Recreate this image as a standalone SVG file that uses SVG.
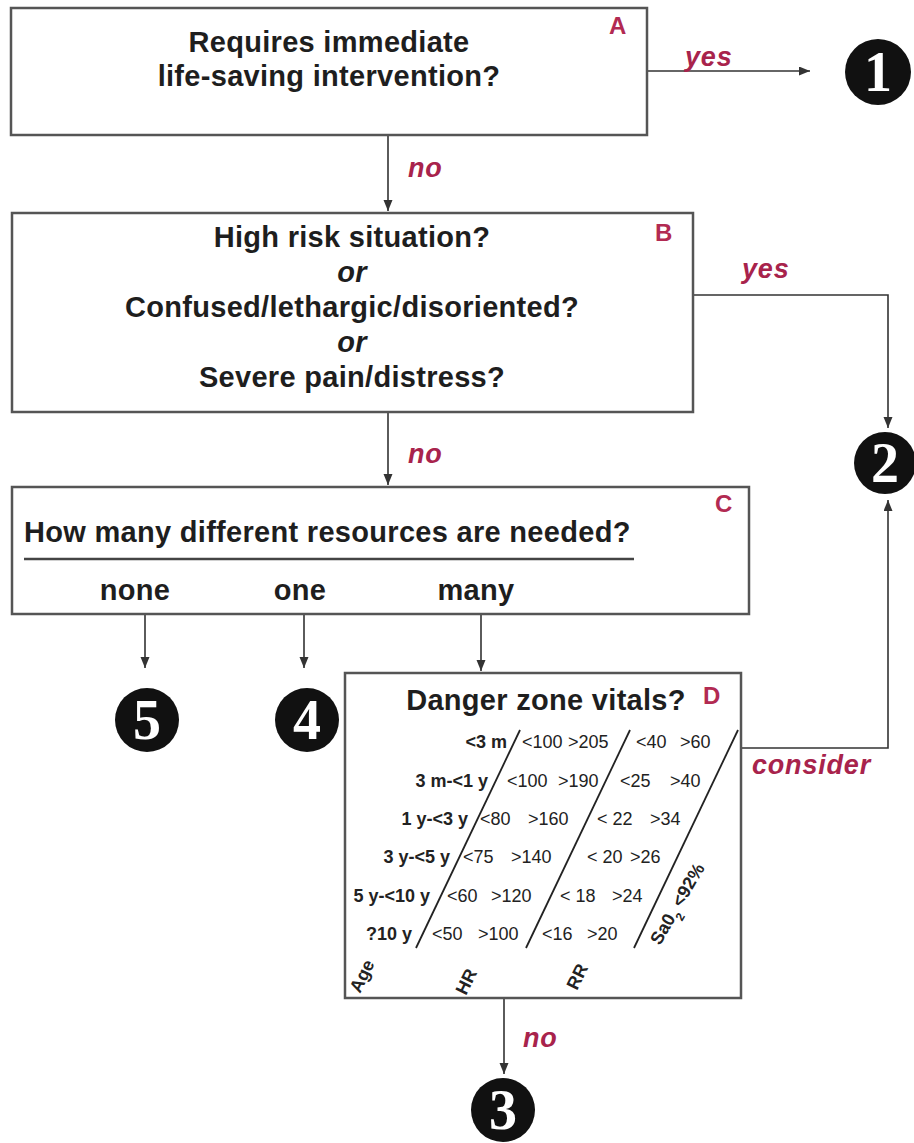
<svg xmlns="http://www.w3.org/2000/svg" width="914" height="1143" viewBox="0 0 914 1143">
<defs>
<marker id="ah" markerUnits="userSpaceOnUse" markerWidth="12" markerHeight="10" refX="11" refY="4.5" orient="auto">
<path d="M0,0 L11,4.5 L0,9 z" fill="#333"/>
</marker>
<style>
.box{fill:#fff;stroke:#555;stroke-width:2.5}
.q{font-family:"Liberation Sans",Arial,sans-serif;font-weight:bold;font-size:29px;letter-spacing:0.3px;fill:#1e1e1e}
.or{font-style:italic}
.lbl{font-family:"Liberation Sans",Arial,sans-serif;font-weight:bold;font-size:24px;fill:#b22a52}
.red{font-family:"Liberation Sans",Arial,sans-serif;font-weight:bold;font-style:italic;font-size:27px;letter-spacing:0.8px;fill:#a8234c}
.con{fill:none;stroke:#333;stroke-width:1.6}
.num{font-family:"Liberation Serif","Times New Roman",serif;font-weight:bold;font-size:56px;fill:#fff;text-anchor:middle}
.age{font-family:"Liberation Sans",Arial,sans-serif;font-weight:bold;font-size:18px;fill:#222;text-anchor:end}
.val{font-family:"Liberation Sans",Arial,sans-serif;font-size:18px;fill:#222}
.ax{font-family:"Liberation Sans",Arial,sans-serif;font-weight:bold;font-size:18px;fill:#222}
.sl{stroke:#222;stroke-width:1.8}
</style>
</defs>
<rect width="914" height="1143" fill="#fff"/>

<g id="connectors">
<line class="con" x1="648" y1="71" x2="810" y2="71" marker-end="url(#ah)"/>
<line class="con" x1="388" y1="135" x2="388" y2="211" marker-end="url(#ah)"/>
<polyline class="con" points="693,295 888,295 888,428" marker-end="url(#ah)"/>
<line class="con" x1="388" y1="412" x2="388" y2="485" marker-end="url(#ah)"/>
<line class="con" x1="145" y1="614" x2="145" y2="668" marker-end="url(#ah)"/>
<line class="con" x1="304" y1="614" x2="304" y2="668" marker-end="url(#ah)"/>
<line class="con" x1="481" y1="614" x2="481" y2="671" marker-end="url(#ah)"/>
<polyline class="con" points="741,748 888,748 888,500" marker-end="url(#ah)"/>
<line class="con" x1="504" y1="998" x2="504" y2="1074" marker-end="url(#ah)"/>
<text class="red" x="685" y="66">yes</text>
<text class="red" x="408" y="177">no</text>
<text class="red" x="742" y="278">yes</text>
<text class="red" x="408" y="463">no</text>
<text class="red" x="752" y="774">consider</text>
<text class="red" x="523" y="1047">no</text>
</g>

<g id="nodeA">
<rect class="box" x="11" y="8" width="636" height="127"/>
<text class="q" x="329" y="52" text-anchor="middle">Requires immediate</text>
<text class="q" x="329" y="86" text-anchor="middle">life-saving intervention?</text>
<text class="lbl" x="609" y="34">A</text>
</g>

<g id="nodeB">
<rect class="box" x="12" y="213" width="681" height="199"/>
<text class="q" x="352" y="247" text-anchor="middle">High risk situation?</text>
<text class="q or" x="352" y="282" text-anchor="middle">or</text>
<text class="q" x="352" y="317" text-anchor="middle">Confused/lethargic/disoriented?</text>
<text class="q or" x="352" y="352" text-anchor="middle">or</text>
<text class="q" x="352" y="387" text-anchor="middle">Severe pain/distress?</text>
<text class="lbl" x="655" y="241">B</text>
</g>

<g id="nodeC">
<rect class="box" x="12" y="487" width="737" height="127"/>
<text class="q" x="24" y="542">How many different resources are needed?</text>
<line x1="24" y1="559" x2="634" y2="559" stroke="#444" stroke-width="2.5"/>
<text class="q" x="135" y="600" text-anchor="middle">none</text>
<text class="q" x="300" y="600" text-anchor="middle">one</text>
<text class="q" x="476" y="600" text-anchor="middle">many</text>
<text class="lbl" x="715" y="512">C</text>
</g>

<g id="nodeD">
<rect class="box" x="345" y="673" width="396" height="325"/>
<text class="q" x="546" y="710" text-anchor="middle">Danger zone vitals?</text>
<text class="lbl" x="703" y="704">D</text>
<line class="sl" x1="520" y1="730" x2="416" y2="948"/>
<line class="sl" x1="630" y1="730" x2="526" y2="948"/>
<line class="sl" x1="738" y1="730" x2="634" y2="948"/>
<text class="age" x="507" y="748">&lt;3 m</text>
<text class="val" y="748"><tspan x="522">&lt;100</tspan><tspan x="568">&gt;205</tspan><tspan x="636">&lt;40</tspan><tspan x="680">&gt;60</tspan></text>
<text class="age" x="488" y="787">3 m-&lt;1 y</text>
<text class="val" y="787"><tspan x="507">&lt;100</tspan><tspan x="558">&gt;190</tspan><tspan x="620">&lt;25</tspan><tspan x="670">&gt;40</tspan></text>
<text class="age" x="468" y="825">1 y-&lt;3 y</text>
<text class="val" y="825"><tspan x="480">&lt;80</tspan><tspan x="528">&gt;160</tspan><tspan x="597">&lt; 22</tspan><tspan x="650">&gt;34</tspan></text>
<text class="age" x="450" y="863">3 y-&lt;5 y</text>
<text class="val" y="863"><tspan x="463">&lt;75</tspan><tspan x="511">&gt;140</tspan><tspan x="587">&lt; 20</tspan><tspan x="630">&gt;26</tspan></text>
<text class="age" x="430" y="902">5 y-&lt;10 y</text>
<text class="val" y="902"><tspan x="447">&lt;60</tspan><tspan x="491">&gt;120</tspan><tspan x="560">&lt; 18</tspan><tspan x="612">&gt;24</tspan></text>
<text class="age" x="412" y="940">?10 y</text>
<text class="val" y="940"><tspan x="432">&lt;50</tspan><tspan x="478">&gt;100</tspan><tspan x="542">&lt;16</tspan><tspan x="587">&gt;20</tspan></text>
<text class="ax" x="360" y="994" transform="rotate(-64 360 994)">Age</text>
<text class="ax" x="466" y="996" transform="rotate(-64 466 996)">HR</text>
<text class="ax" x="577" y="991" transform="rotate(-64 577 991)">RR</text>
<text class="ax" x="660" y="946" transform="rotate(-60 660 946)">Sa0<tspan font-size="12" baseline-shift="sub">2</tspan> &lt;92%</text>
</g>

<g id="n1"><circle cx="878" cy="72" r="33" fill="#111"/><text class="num" x="878" y="91">1</text></g>
<g id="n2"><circle cx="885" cy="463" r="31" fill="#111"/><text class="num" x="885" y="482">2</text></g>
<g id="n3"><circle cx="503" cy="1110" r="32" fill="#111"/><text class="num" x="503" y="1129">3</text></g>
<g id="n4"><circle cx="307" cy="720" r="32" fill="#111"/><text class="num" x="307" y="739">4</text></g>
<g id="n5"><circle cx="147" cy="720" r="32" fill="#111"/><text class="num" x="147" y="739">5</text></g>
</svg>
